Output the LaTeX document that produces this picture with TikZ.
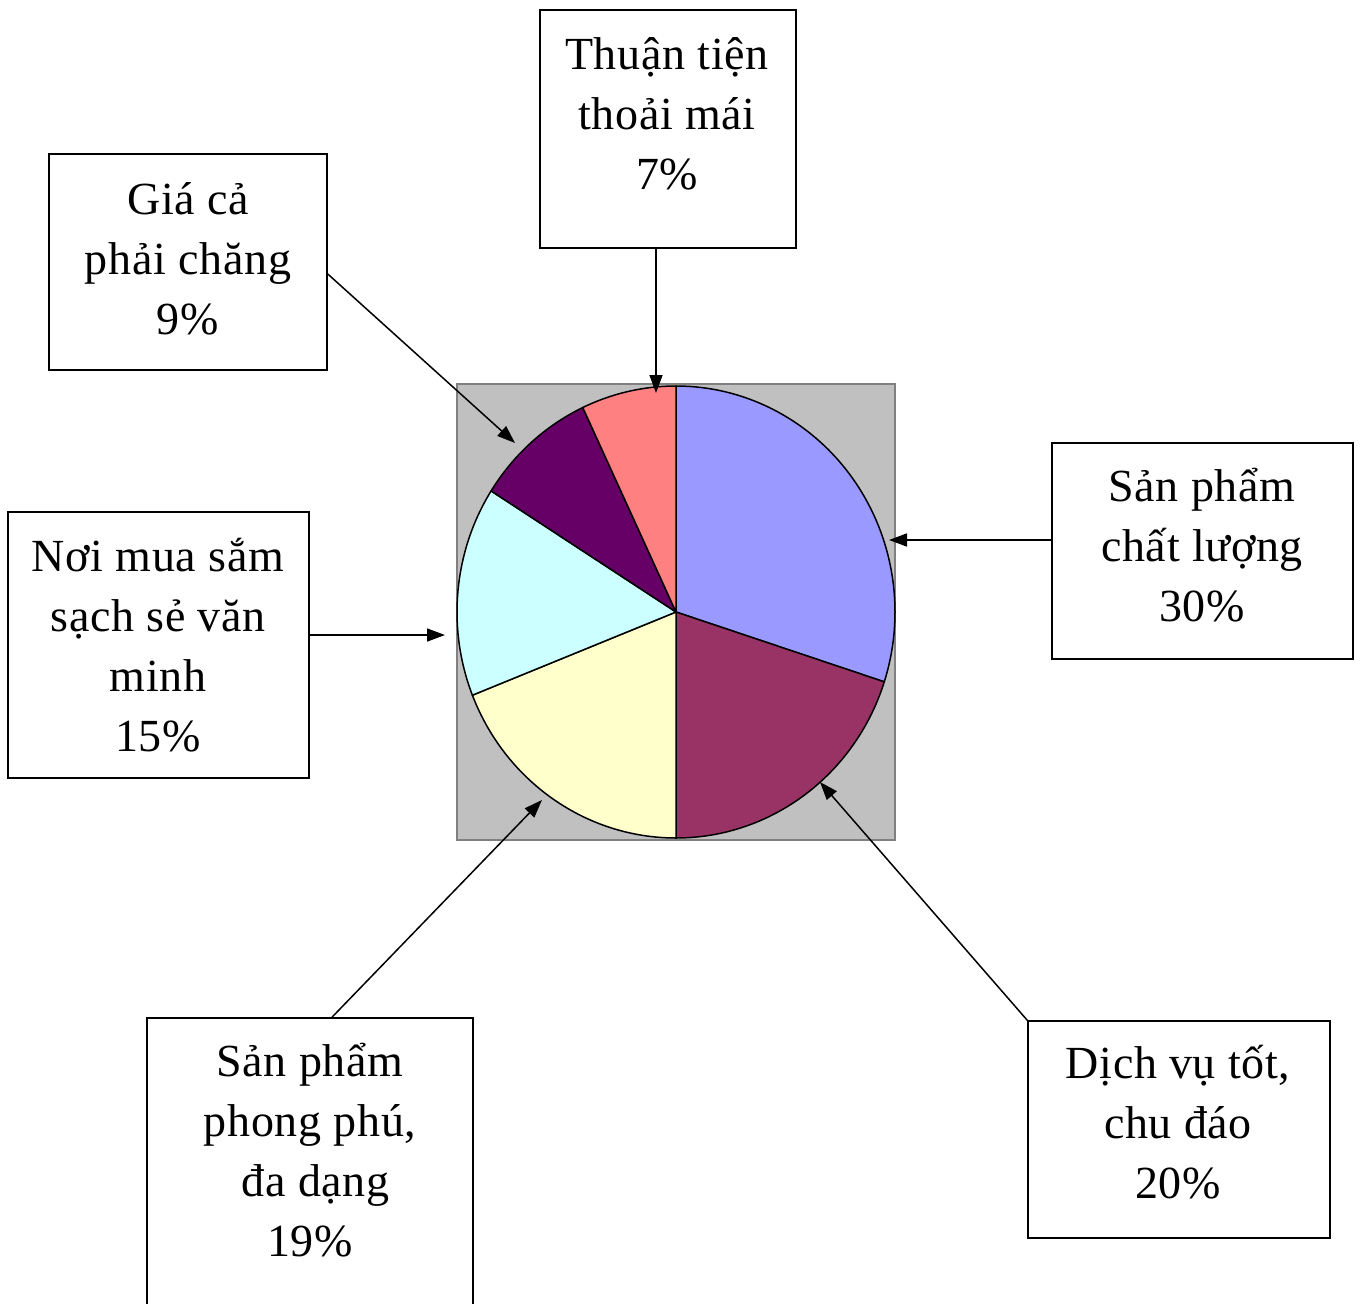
\documentclass[tikz,border=0pt]{standalone}
\usepackage{fontspec}
\setmainfont[LetterSpace=1.5]{Liberation Serif}
\usetikzlibrary{arrows.meta}
\definecolor{sliceblue}{HTML}{9999FF}
\definecolor{slicemaroon}{HTML}{993366}
\definecolor{sliceyellow}{HTML}{FFFFCC}
\definecolor{slicecyan}{HTML}{CCFFFF}
\definecolor{slicepurple}{HTML}{660066}
\definecolor{slicesalmon}{HTML}{FF8080}
\definecolor{plotgray}{HTML}{C0C0C0}
\definecolor{plotborder}{HTML}{808080}
\newcommand\lnst{\rule[-15pt]{0pt}{60pt}}
\begin{document}
\begin{tikzpicture}[x=1pt,y=-1pt,
  box/.style={draw=black,line width=1.6pt,fill=white,inner sep=0pt},
  lbl/.style={align=center,font=\fontsize{46}{60}\selectfont,inner sep=0pt},
  conn/.style={line width=1.5pt,-{Triangle[length=18pt,width=13pt]}},
  slice/.style={draw=black,line width=1.5pt,line join=round}]
\useasboundingbox (0,0) rectangle (1363,1304);
% plot area
\draw[draw=plotborder,fill=plotgray,line width=1.5pt] (457,384) rectangle (895,840);
\begin{scope}[shift={(676,612)}]
  \filldraw[slice,fill=sliceblue] (0pt,0pt) -- (90:219pt and 226pt) arc[start angle=90,end angle=-18,x radius=219pt,y radius=226pt] -- cycle;
  \filldraw[slice,fill=slicemaroon] (0pt,0pt) -- (-18:219pt and 226pt) arc[start angle=-18,end angle=-90,x radius=219pt,y radius=226pt] -- cycle;
  \filldraw[slice,fill=sliceyellow] (0pt,0pt) -- (-90:219pt and 226pt) arc[start angle=-90,end angle=-158.4,x radius=219pt,y radius=226pt] -- cycle;
  \filldraw[slice,fill=slicecyan] (0pt,0pt) -- (-158.4:219pt and 226pt) arc[start angle=-158.4,end angle=-212.4,x radius=219pt,y radius=226pt] -- cycle;
  \filldraw[slice,fill=slicepurple] (0pt,0pt) -- (-212.4:219pt and 226pt) arc[start angle=-212.4,end angle=-244.8,x radius=219pt,y radius=226pt] -- cycle;
  \filldraw[slice,fill=slicesalmon] (0pt,0pt) -- (-244.8:219pt and 226pt) arc[start angle=-244.8,end angle=-270,x radius=219pt,y radius=226pt] -- cycle;
\end{scope}
% boxes
\node[box,minimum width=256pt,minimum height=238pt] (thuan) at (668,129) {};
\node[box,minimum width=278pt,minimum height=216pt] (gia) at (188,262) {};
\node[box,minimum width=301pt,minimum height=216pt] (chat) at (1202.5,551) {};
\node[box,minimum width=301pt,minimum height=266pt] (noi) at (158.5,645) {};
\node[box,minimum width=326pt,minimum height=312pt] (phong) at (310,1174) {};
\node[box,minimum width=302pt,minimum height=217pt] (dich) at (1179,1129.5) {};
% labels
\node[lbl] (tthuan) at (667,114) {Thuận tiện\lnst\\thoải mái\lnst\\7\%\lnst};
\node[lbl] (tgia) at (188,259) {Giá cả\lnst\\phải chăng\lnst\\9\%\lnst};
\node[lbl] (tchat) at (1202,546.5) {Sản phẩm\lnst\\chất lượng\lnst\\30\%\lnst};
\node[lbl] (tnoi) at (158,646) {Nơi mua sắm\lnst\\sạch sẻ văn\lnst\\minh\lnst\\15\%\lnst};
\node[lbl] (tphong) at (310,1151) {Sản phẩm\lnst\\phong phú,\lnst\\\hspace*{0.25em}đa dạng\lnst\\19\%\lnst};
\node[lbl] (tdich) at (1178,1123.5) {Dịch vụ tốt,\lnst\\chu đáo\lnst\\20\%\lnst};
% connector targets
\coordinate (pT) at (656,393);
\coordinate (pG) at (515,443);
\coordinate (pC) at (889,540);
\coordinate (pN) at (445,635);
\coordinate (pP) at (542,800);
\coordinate (pD) at (820,782);
% connectors
\draw[conn] (thuan.south -| pT) -- (pT);
\draw[conn] ([yshift=-12pt]gia.east) -- (pG);
\draw[conn] (chat.west |- pC) -- (pC);
\draw[conn] (noi.east |- pN) -- (pN);
\draw[conn] ([xshift=22pt]phong.north) -- (pP);
\draw[conn] (dich.north west) -- (pD);
\end{tikzpicture}
\end{document}
